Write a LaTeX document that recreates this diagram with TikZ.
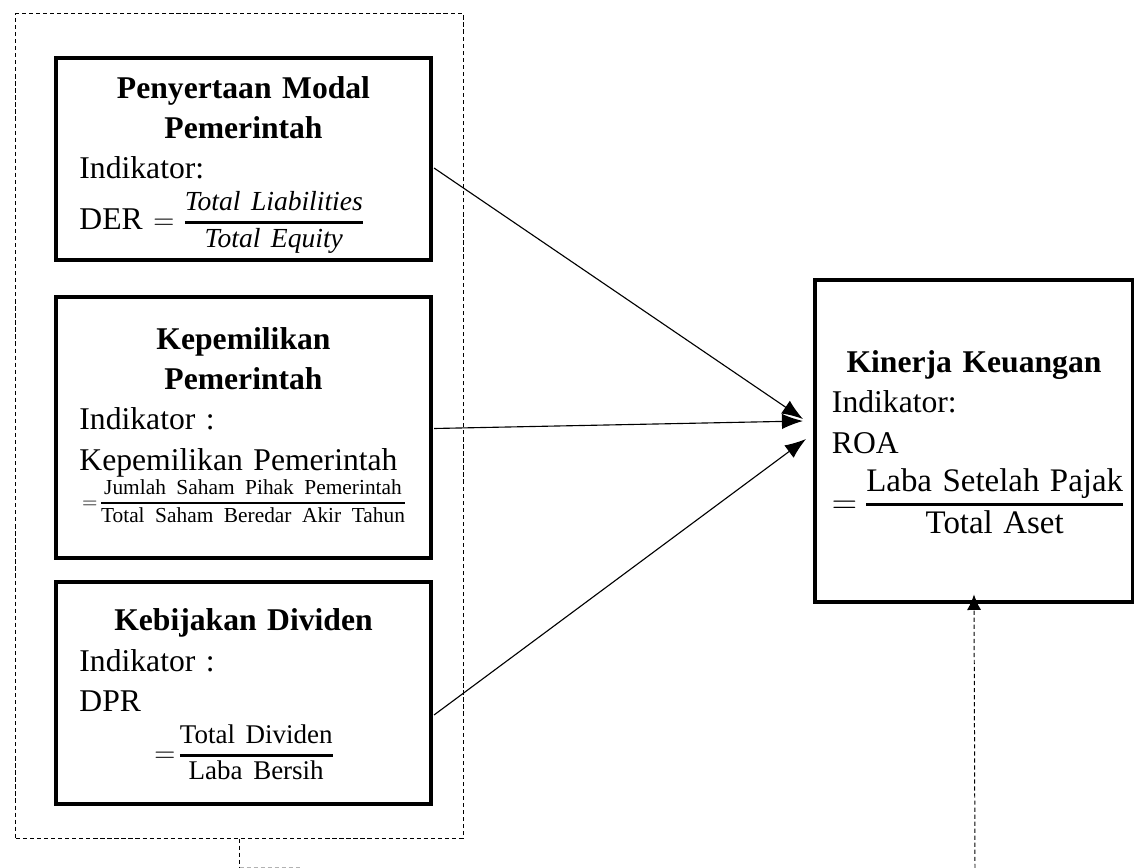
\documentclass[tikz,border=0pt]{standalone}
\usepackage{fontspec}
\setmainfont{Liberation Serif}
\usetikzlibrary{arrows.meta,calc}

% fraction: size, numerator, denominator, rule, gap
\newcommand{\ratio}[5]{{\fontsize{#1}{#1}\selectfont
  $\vcenter{\offinterlineskip\halign{\hfil##\hfil\cr
    \vphantom{Ag}#2\cr\noalign{\kern#5\hrule height#4\kern#5}
    \vphantom{Ag}#3\cr}}$}}

\begin{document}
\begin{tikzpicture}[x=0.025cm,y=-0.025cm,
  varbox/.style={draw,line width=2.8pt,inner xsep=0.55cm,inner ysep=0pt,align=left,
    minimum width=9.375cm,text width=8.2cm,font=\fontsize{22.5}{28.5}\selectfont},
  grpbox/.style={draw,dash pattern=on 3pt off 2pt,line width=0.7pt},
  dashline/.style={dash pattern=on 3pt off 2pt,line width=0.7pt},
  arr/.style={-{Latex[length=15pt,width=11pt]},line width=0.8pt}]
  \useasboundingbox (0,0) rectangle (1134,868);

  % group of independent variables
  \node[grpbox,minimum width=11.175cm,minimum height=20.6cm] (grp) at (239.5,426) {};

  \node[varbox,minimum height=5.05cm] (pmp) at (243.5,159) {%
    {\centering\bfseries Penyertaan Modal\\Pemerintah\par}
    Indikator:\par\vspace{8pt}
    DER $=$ \ratio{19.6}{\itshape Total Liabilities}{\itshape Total Equity}{2.2pt}{2.8pt}\par
    \kern-8pt};

  \node[varbox,minimum height=6.525cm] (kp) at (243.5,427.5) {%
    {\centering\bfseries Kepemilikan\\Pemerintah\par}
    Indikator :\par
    Kepemilikan Pemerintah\par\vspace{1pt}
    {\centering\fontsize{15.2}{18}\selectfont $=$\,\ratio{15.2}{Jumlah Saham Pihak Pemerintah}{Total Saham Beredar Akir Tahun}{1.4pt}{2.4pt}\par}};

  \node[varbox,minimum height=5.55cm] (kd) at (243.5,693) {%
    {\centering\bfseries Kebijakan Dividen\par}
    Indikator :\par
    DPR\par\vspace{9pt}
    {\centering\fontsize{19.2}{22}\selectfont $=$\,\ratio{19.2}{Total Dividen}{Laba Bersih}{1.9pt}{3pt}\par}
    \kern-6pt};

  \node[varbox,minimum width=7.95cm,text width=7.1cm,inner xsep=0.425cm,
    minimum height=8.025cm] (kk) at (974,441) {%
    {\centering\bfseries Kinerja Keuangan\par}
    Indikator:\par
    ROA\par\vspace{10pt}
    {\fontsize{23.4}{26}\selectfont $=$\;\ratio{23.4}{Laba Setelah Pajak}{Total Aset}{2.3pt}{3.2pt}\par}
    \kern-7pt};

  \coordinate (gtail) at (239.5,867);
  \coordinate (gend) at (300,867);
  \coordinate (ktail) at (975,868);

  \draw[arr] ($(pmp.east)+(1,9)$) -- ($(kk.west)+(-10,-22)$);
  \draw[arr] ($(kp.east)+(1,1)$) -- ($(kk.west)+(-10,-20)$);
  \draw[arr] ($(kd.east)+(1,22)$) -- ($(kk.west)+(-7,-2)$);

  \draw[dashline] (grp.south) -- (gtail);
  \draw[dashline,gray!60] (gtail) -- (gend);
  \draw[dashline,-{Latex[length=11pt,width=10pt]}] (ktail) -- ($(kk.south)+(0,-9)$);
\end{tikzpicture}
\end{document}
